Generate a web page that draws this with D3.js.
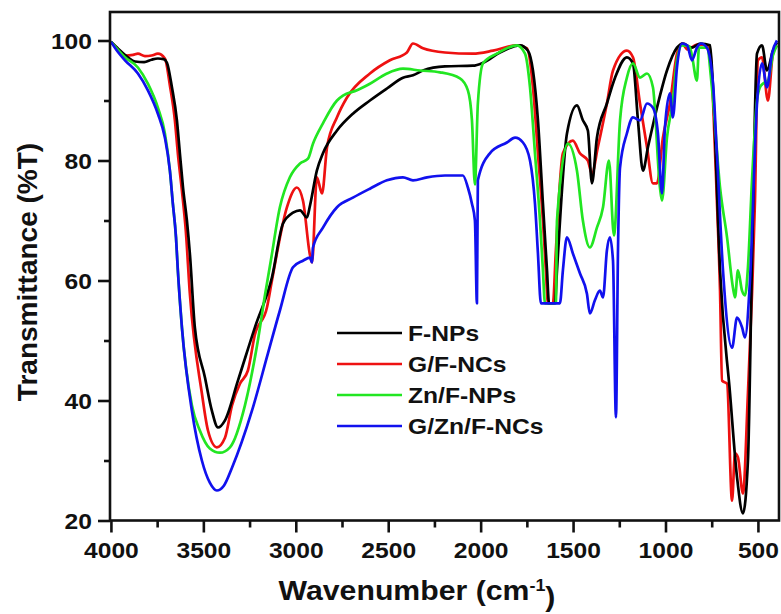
<!DOCTYPE html>
<html>
<head>
<meta charset="utf-8">
<script src="https://cdn.jsdelivr.net/npm/d3@7"></script>
<style>
  html, body { margin: 0; padding: 0; background: #ffffff; }
  svg { display: block; }
  text { font-family: "Liberation Sans", Arial, sans-serif; font-weight: bold; fill: #111; }
</style>
</head>
<body>
<script>
// FTIR spectra: [wavenumber (cm-1), transmittance (%T)]
const fNPs = [[4000,99.8],[3960,98.6],[3908,97.2],[3870,96.5],[3820,96.4],[3780,96.8],[3746,97.0],[3715,96.9],[3697,96.3],[3670,92.2],[3643,86.7],[3627,81.2],[3610,75.5],[3589,70.0],[3573,64.5],[3546,52.2],[3491,43.8],[3454,38.3],[3421,35.5],[3383,36.7],[3313,43.3],[3221,52.2],[3129,60.5],[3069,69.5],[3015,71.3],[2977,71.7],[2940,70.5],[2923,72.5],[2886,78.3],[2853,81.2],[2777,85.0],[2691,87.8],[2599,90.0],[2507,92.0],[2420,93.8],[2366,94.2],[2312,95.0],[2193,95.7],[2042,95.8],[1987,96.3],[1896,98.0],[1787,99.2],[1744,98.3],[1717,95.0],[1690,86.7],[1663,72.8],[1641,61.7],[1630,56.2],[1598,56.2],[1587,61.7],[1533,84.5],[1479,89.2],[1447,86.7],[1420,85.0],[1398,76.2],[1371,83.8],[1317,89.5],[1273,93.8],[1209,97.2],[1176,96.2],[1149,86.7],[1122,78.3],[1095,82.2],[1046,88.8],[992,95.0],[938,98.8],[905,99.5],[860,98.8],[810,99.5],[759,99.2],[743,92.2],[705,61.7],[651,41.2],[613,27.2],[581,21.2],[554,30.0],[532,63.3],[505,97.8],[478,99.2],[451,95.0],[419,98.3],[397,99.7]];

const gfNCs = [[4000,99.8],[3960,98.5],[3924,97.5],[3880,97.6],[3854,97.8],[3816,97.4],[3780,97.5],[3746,97.8],[3708,97.0],[3681,92.5],[3654,86.7],[3638,81.2],[3616,75.0],[3595,68.3],[3573,57.8],[3508,41.2],[3475,35.0],[3427,32.2],[3383,33.8],[3345,39.2],[3302,42.8],[3259,45.0],[3221,51.0],[3156,55.5],[3129,60.0],[3048,72.2],[2994,75.5],[2961,73.3],[2923,64.2],[2912,63.0],[2886,77.2],[2858,74.5],[2831,82.2],[2777,87.2],[2723,90.5],[2599,94.5],[2491,96.7],[2399,98.0],[2366,99.5],[2312,98.7],[2193,98.0],[2042,97.8],[1933,98.3],[1804,99.2],[1749,98.7],[1717,92.2],[1690,81.2],[1663,70.0],[1647,61.7],[1636,56.2],[1609,56.2],[1593,65.0],[1555,81.2],[1501,83.3],[1463,81.2],[1420,80.0],[1398,77.8],[1366,82.2],[1317,89.5],[1284,95.0],[1209,98.3],[1176,97.2],[1138,89.5],[1100,82.2],[1068,76.2],[1046,76.2],[1014,83.8],[976,89.5],[938,97.8],[911,99.5],[880,98.5],[830,99.3],[790,99.3],[759,98.3],[743,90.0],[722,73.3],[705,58.3],[694,43.3],[667,42.8],[640,23.3],[624,31.2],[608,30.5],[581,24.5],[554,41.2],[532,57.8],[516,73.3],[500,96.7],[478,97.2],[446,90.0],[419,97.8],[397,99.2]];

const znFNPs = [[4000,99.8],[3924,97.2],[3854,95.5],[3800,92.8],[3746,88.8],[3708,84.5],[3681,78.3],[3665,72.8],[3648,67.2],[3638,61.7],[3616,52.2],[3562,39.2],[3519,35.0],[3465,32.0],[3410,31.3],[3356,32.2],[3275,39.2],[3205,50.0],[3167,57.5],[3135,63.3],[3086,72.2],[3032,77.2],[2977,79.5],[2934,80.3],[2907,82.8],[2853,86.2],[2777,90.0],[2745,90.8],[2669,91.7],[2599,92.8],[2507,94.5],[2420,95.3],[2328,95.0],[2220,94.7],[2112,93.7],[2069,91.7],[2047,86.7],[2031,76.0],[2015,89.5],[1987,96.2],[1912,97.8],[1804,99.2],[1760,97.8],[1733,92.2],[1706,81.2],[1679,70.0],[1663,61.7],[1652,56.2],[1593,56.2],[1587,70.0],[1528,82.8],[1479,78.3],[1447,70.0],[1409,65.5],[1371,68.8],[1338,72.2],[1306,80.0],[1279,67.5],[1246,86.7],[1209,93.8],[1176,96.2],[1138,93.8],[1100,94.5],[1068,92.2],[1030,75.5],[1019,73.3],[992,83.8],[960,90.0],[938,96.7],[911,99.2],[870,99.0],[857,97.5],[830,93.3],[819,98.8],[776,98.8],[749,92.2],[705,75.5],[667,67.2],[635,58.8],[624,57.2],[608,61.7],[586,58.3],[570,57.5],[554,62.2],[532,76.7],[505,90.0],[489,92.2],[473,92.8],[446,93.3],[419,97.5],[397,99.2]];

const gznFNCs = [[4000,99.8],[3960,98.0],[3924,96.7],[3854,94.5],[3800,91.7],[3746,87.8],[3708,83.8],[3681,78.3],[3665,72.8],[3648,67.2],[3638,61.7],[3616,52.2],[3562,38.3],[3508,30.0],[3465,26.3],[3427,25.0],[3389,25.8],[3345,28.8],[3237,38.3],[3151,47.8],[3086,55.0],[3015,62.2],[2961,63.3],[2923,63.8],[2912,63.0],[2907,65.5],[2853,68.8],[2777,72.2],[2691,73.8],[2599,75.3],[2507,76.7],[2420,77.2],[2366,76.7],[2290,77.2],[2193,77.5],[2096,77.5],[2069,75.5],[2047,72.8],[2031,70.0],[2020,56.2],[2015,76.7],[1950,81.2],[1858,83.0],[1814,83.8],[1771,83.0],[1733,80.0],[1706,72.8],[1690,64.5],[1674,56.2],[1571,56.2],[1555,61.7],[1533,67.2],[1501,64.5],[1463,61.2],[1425,57.8],[1409,54.5],[1382,56.7],[1355,58.3],[1338,57.2],[1317,65.0],[1301,67.2],[1284,63.3],[1268,37.2],[1257,65.0],[1246,78.8],[1209,84.5],[1176,87.2],[1138,86.7],[1100,89.5],[1068,88.8],[1041,84.5],[1019,74.5],[1003,85.5],[976,91.2],[960,87.2],[938,95.5],[911,99.5],[883,99.2],[857,96.7],[830,98.8],[808,99.5],[776,98.8],[743,92.8],[722,81.2],[689,61.7],[640,48.8],[613,53.8],[586,52.2],[570,50.5],[543,60.0],[505,89.5],[478,96.2],[451,92.2],[424,97.8],[397,100.0]];

const seriesNames  = ["F-NPs", "G/F-NCs", "Zn/F-NPs", "G/Zn/F-NCs"];
const seriesData   = [fNPs, gfNCs, znFNPs, gznFNCs];
const seriesColors = ["#000000", "#ee1111", "#22e622", "#1111ee"];
const drawOrder    = [1, 0, 2, 3];

const xMajorTicks = [4000, 3500, 3000, 2500, 2000, 1500, 1000, 500];
const xMinorTicks = [3750, 3250, 2750, 2250, 1750, 1250, 750];
const yMajorTicks = [20, 40, 60, 80, 100];
const yMinorTicks = [30, 50, 70, 90];

const W = 781, H = 614;
const plotL = 110, plotR = 779, plotT = 12, plotB = 520.5;

const svg = d3.select("body").append("svg").attr("width", W).attr("height", H);

const x = d3.scaleLinear().domain([4005, 386]).range([plotL, plotR]);
const y = d3.scaleLinear().domain([20, 104.75]).range([plotB, plotT]);

svg.append("defs").append("clipPath").attr("id", "plot-clip")
  .append("rect").attr("x", plotL).attr("y", plotT).attr("width", plotR - plotL).attr("height", plotB - plotT);

// spectra
const line = d3.line().x(d => x(d[0])).y(d => y(d[1])).curve(d3.curveMonotoneX);
const plot = svg.append("g").attr("clip-path", "url(#plot-clip)");
drawOrder.forEach(i => {
  plot.append("path")
    .datum(seriesData[i])
    .attr("fill", "none")
    .attr("stroke", seriesColors[i])
    .attr("stroke-width", 2.7)
    .attr("stroke-linejoin", "round")
    .attr("d", line);
});

// frame
svg.append("rect")
  .attr("x", plotL).attr("y", plotT).attr("width", plotR - plotL).attr("height", plotB - plotT)
  .attr("fill", "none").attr("stroke", "#111").attr("stroke-width", 2.6);

const stretch = "scale(1.12,1)";

// y axis
const yMajor = svg.append("g").attr("transform", `translate(${plotL},0)`)
  .call(d3.axisLeft(y).tickValues(yMajorTicks).tickSize(12).tickFormat(d3.format("d")));
const yMinor = svg.append("g").attr("transform", `translate(${plotL},0)`)
  .call(d3.axisLeft(y).tickValues(yMinorTicks).tickSize(6).tickFormat(""));
[yMajor, yMinor].forEach(g => {
  g.select(".domain").remove();
  g.selectAll(".tick line").attr("stroke", "#111").attr("stroke-width", 2.6);
});
yMajor.selectAll(".tick text")
  .attr("x", 0).attr("dy", "0.36em")
  .attr("transform", `translate(-18,0) ${stretch}`)
  .style("font-size", "22px").style("font-family", "'Liberation Sans', Arial, sans-serif")
  .style("font-weight", "bold").attr("fill", "#111");

// x axis
const xMajor = svg.append("g").attr("transform", `translate(0,${plotB})`)
  .call(d3.axisBottom(x).tickValues(xMajorTicks).tickSize(12).tickFormat(d3.format("d")));
const xMinor = svg.append("g").attr("transform", `translate(0,${plotB})`)
  .call(d3.axisBottom(x).tickValues(xMinorTicks).tickSize(7).tickFormat(""));
[xMajor, xMinor].forEach(g => {
  g.select(".domain").remove();
  g.selectAll(".tick line").attr("stroke", "#111").attr("stroke-width", 2.6);
});
xMajor.selectAll(".tick text")
  .attr("y", 0).attr("dy", null)
  .attr("transform", `translate(0,37.5) ${stretch}`)
  .style("font-size", "22px").style("font-family", "'Liberation Sans', Arial, sans-serif")
  .style("font-weight", "bold").attr("fill", "#111");

// axis titles
const xt = svg.append("text")
  .attr("text-anchor", "middle")
  .attr("transform", `translate(417,600) ${stretch}`)
  .style("font-size", "27px");
xt.append("tspan").text("Wavenumber (cm");
xt.append("tspan").attr("dy", "-0.55em").style("font-size", "16px").text("-1");
xt.append("tspan").attr("dy", "0.55em").text(")");

svg.append("text")
  .attr("text-anchor", "middle")
  .attr("transform", "translate(37,272) rotate(-90)")
  .style("font-size", "28px")
  .text("Transmittance (%T)");

// legend
const legend = svg.append("g").attr("transform", "translate(337,333)");
seriesNames.forEach((name, i) => {
  const row = legend.append("g").attr("transform", `translate(0,${i * 31})`);
  row.append("line").attr("x1", 0).attr("x2", 65).attr("y1", 0).attr("y2", 0)
    .attr("stroke", seriesColors[i]).attr("stroke-width", 2.7);
  row.append("text")
    .attr("transform", `translate(71,8) ${stretch}`)
    .style("font-size", "22px")
    .text(name);
});
</script>
</body>
</html>
